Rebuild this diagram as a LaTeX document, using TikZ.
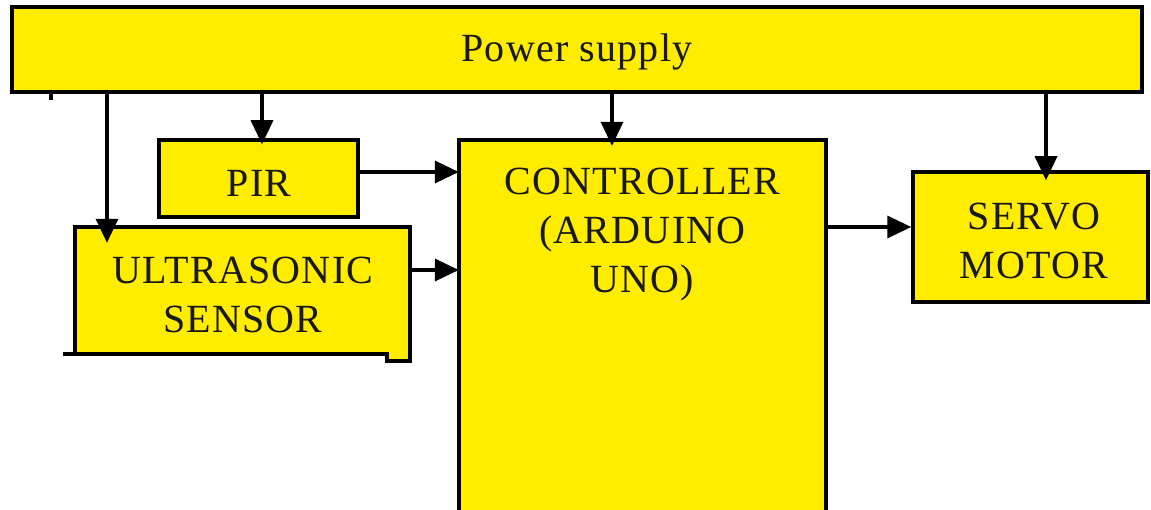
\documentclass[tikz,border=0pt]{standalone}
\usepackage{fontspec}
\setmainfont[LetterSpace=3]{Liberation Serif}
\usetikzlibrary{arrows.meta,calc}
\definecolor{boxyellow}{RGB}{255,237,0}
\tikzset{
  block/.style={draw=black, line width=3.5pt, fill=boxyellow, inner sep=0pt},
  plainfill/.style={draw=none, fill=boxyellow, inner sep=0pt},
  outline/.style={draw=black, line width=3.5pt, line join=miter},
  arr/.style={line width=3.5pt, -{Triangle[length=24pt,width=22pt]}},
  lbl/.style={font=\fontsize{40}{49}\selectfont, align=center, text=black!90, inner sep=0pt}
}
\begin{document}
\begin{tikzpicture}[x=1pt,y=-1pt]
\useasboundingbox (0,0) rectangle (1151,510);
% power supply
\node[block, minimum width=1130pt, minimum height=85pt] (ps) at (577,49.5) {};
\node[lbl] (pstext) at (577,52) {Power supply};
% PIR
\node[block, minimum width=199pt, minimum height=77pt] (pir) at (258.5,178.5) {};
\node[lbl] (pirtext) at (259,183) {PIR};
% ultrasonic sensor
\node[plainfill, minimum width=335pt, minimum height=127pt] (us) at (242.5,290.5) {};
\fill[boxyellow] ($(us.south east)+(-23,0)$) rectangle ($(us.south east)+(0,7)$);
\draw[outline] ($(us.south west)+(-12,0)$) -- ($(us.south east)+(-23,0)$) -- ++(0,7)
  -- ($(us.south east)+(0,7)$) -- (us.north east) -- (us.north west) -- (us.south west);
\node[lbl] (ustext) at (243,295) {ULTRASONIC\\SENSOR};
% controller
\node[plainfill, minimum width=367pt, minimum height=370pt] (ctrl) at (642.5,325) {};
\draw[outline] (ctrl.south west) -- (ctrl.north west) -- (ctrl.north east) -- (ctrl.south east);
\node[lbl, anchor=north] (ctrltext) at ($(ctrl.north)+(0,28)$) {CONTROLLER\\(ARDUINO\\UNO)};
% servo motor
\node[block, minimum width=235pt, minimum height=130pt] (servo) at (1030.5,237) {};
\node[lbl] (servotext) at (1034,241) {SERVO\\MOTOR};
% helper coordinates
\coordinate (xtick) at (51,0);
\coordinate (xus) at (107,0);
\coordinate (xpir) at (262,0);
\coordinate (xctrl) at (612,0);
\coordinate (xservo) at (1046,0);
\coordinate (ypir) at (0,172);
\coordinate (yus) at (0,270);
\coordinate (yout) at (0,227);
% connectors
\draw[line width=3.5pt] (ps.south -| xtick) -- ++(0,6);
\draw[arr] (ps.south -| xus) -- ($(us.north -| xus)+(0,16)$);
\draw[arr] (ps.south -| xpir) -- ($(pir.north -| xpir)+(0,6)$);
\draw[arr] (ps.south -| xctrl) -- ($(ctrl.north -| xctrl)+(0,6)$);
\draw[arr] (ps.south -| xservo) -- ($(servo.north -| xservo)+(0,10)$);
\draw[arr] (pir.east |- ypir) -- (ctrl.west |- ypir);
\draw[arr] (us.east |- yus) -- (ctrl.west |- yus);
\draw[arr] (ctrl.east |- yout) -- (servo.west |- yout);
\end{tikzpicture}
\end{document}
